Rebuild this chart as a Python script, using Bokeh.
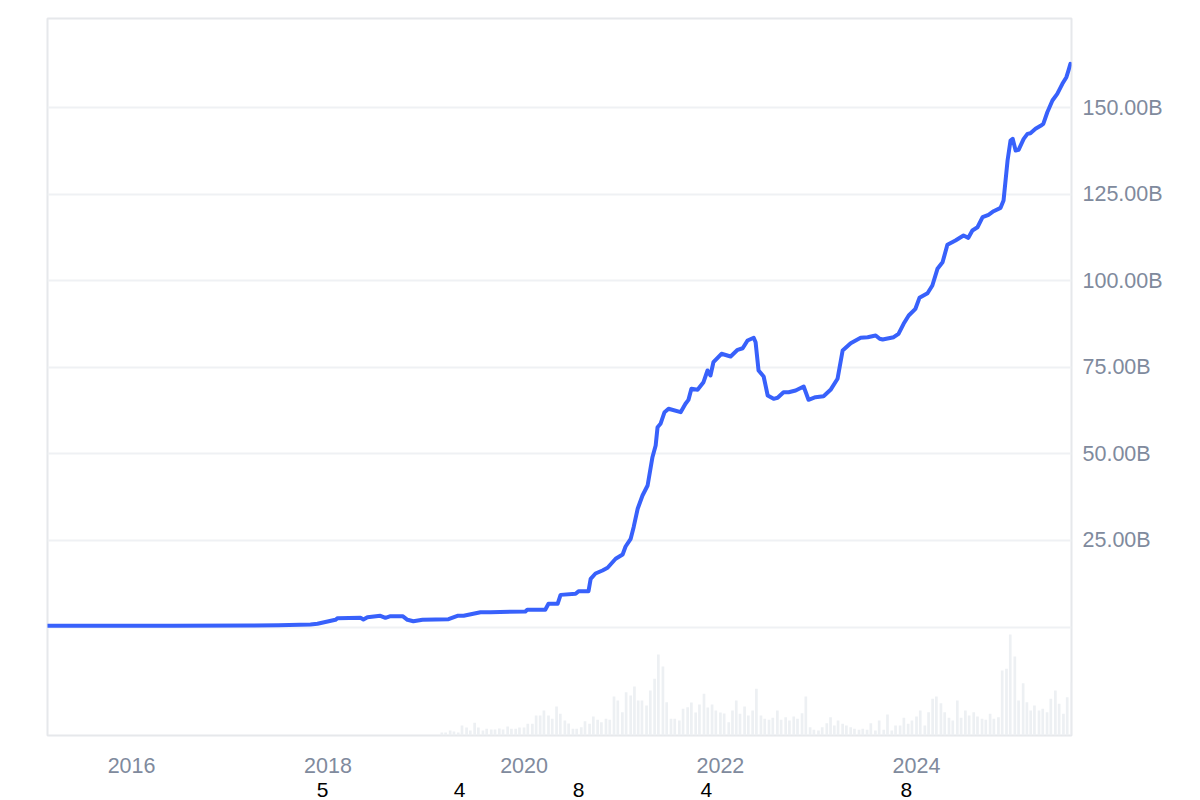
import pandas as pd
from bokeh.plotting import figure
from bokeh.models import Range1d, FixedTicker, DatetimeTickFormatter, DatetimeAxis, ColumnDataSource
from bokeh.embed import file_html
from bokeh.resources import INLINE

# ---------------- data ----------------
line_dates = [
    "2015-02-22", "2016-06-01", "2017-03-18", "2017-07-01", "2017-10-28", "2017-11-23",
    "2018-01-29", "2018-02-06", "2018-05-02", "2018-05-13", "2018-05-28", "2018-07-15",
    "2018-08-03", "2018-08-22", "2018-10-06", "2018-10-24", "2018-11-15", "2018-12-19",
    "2019-03-26", "2019-04-28", "2019-05-21", "2019-07-23", "2019-08-29", "2020-01-06",
    "2020-01-13", "2020-03-20", "2020-04-01", "2020-05-05", "2020-05-16", "2020-07-11",
    "2020-07-22", "2020-08-28", "2020-09-05", "2020-09-23", "2020-10-19", "2020-11-07",
    "2020-12-07", "2021-01-02", "2021-01-13", "2021-02-01", "2021-02-12", "2021-02-27",
    "2021-03-17", "2021-04-05", "2021-04-23", "2021-05-05", "2021-05-12", "2021-05-23",
    "2021-06-07", "2021-06-22", "2021-08-06", "2021-08-24", "2021-09-04", "2021-09-15",
    "2021-10-08", "2021-10-30", "2021-11-14", "2021-11-25", "2021-12-06", "2022-01-05",
    "2022-02-08", "2022-03-06", "2022-03-25", "2022-04-12", "2022-05-05", "2022-05-12",
    "2022-05-23", "2022-06-11", "2022-06-26", "2022-07-18", "2022-08-02", "2022-08-24",
    "2022-09-12", "2022-10-08", "2022-11-07", "2022-11-25", "2022-12-21", "2023-01-20",
    "2023-02-15", "2023-03-13", "2023-04-01", "2023-05-01", "2023-06-07", "2023-07-03",
    "2023-08-02", "2023-08-17", "2023-08-28", "2023-10-08", "2023-10-26", "2023-11-14",
    "2023-12-03", "2023-12-28", "2024-01-12", "2024-02-11", "2024-02-29", "2024-03-19",
    "2024-04-07", "2024-04-25", "2024-05-25", "2024-06-24", "2024-07-12", "2024-07-27",
    "2024-08-15", "2024-09-03", "2024-09-25", "2024-10-14", "2024-11-09", "2024-11-20",
    "2024-12-05", "2024-12-16", "2024-12-24", "2025-01-04", "2025-01-15", "2025-02-03",
    "2025-02-17", "2025-02-28", "2025-03-19", "2025-04-07", "2025-04-17", "2025-05-02",
    "2025-05-21", "2025-06-08", "2025-06-27", "2025-07-12", "2025-07-19", "2025-07-27",
]
line_values_b = [
    0.4, 0.4, 0.45, 0.55, 0.75, 0.95,
    2.1, 2.57, 2.68, 2.19, 2.86, 3.26,
    2.68, 3.15, 3.15, 2.1, 1.7, 2.1,
    2.28, 3.26, 3.26, 4.3, 4.3, 4.5,
    5.0, 5.0, 6.73, 6.73, 9.3, 9.6,
    10.36, 10.36, 13.94, 15.47, 16.34, 17.12,
    19.72, 20.96, 23.27, 25.49, 28.84, 34.15,
    37.99, 40.88, 49.05, 52.43, 57.71, 58.69,
    62.04, 63.02, 62.04, 64.46, 65.6, 68.79,
    68.5, 70.7, 74.08, 72.63, 76.47, 78.9,
    78.12, 80.05, 80.51, 82.74, 83.52, 82.25,
    74.08, 72.35, 66.86, 65.9, 66.2, 67.81,
    67.81, 68.3, 69.46, 65.62, 66.37, 66.66,
    68.5, 71.68, 79.85, 81.96, 83.52, 83.69,
    84.18, 83.23, 83.02, 83.69, 84.67, 87.56,
    89.95, 91.89, 95.06, 96.39, 98.61, 103.43,
    105.34, 110.36, 111.6, 113.05, 112.38, 114.49,
    115.44, 118.33, 119.02, 120.06, 121.04, 123.15,
    134.7, 140.47, 140.96, 137.59, 137.79, 140.96,
    142.4, 142.58, 143.85, 144.72, 145.29, 148.64,
    152.02, 153.96, 156.84, 158.75, 160.48, 162.6,
]

# semi-monthly volume readings (1st and 15th), from March 2019
volume_start = "2019-03-01"
volume_values = [
    3, 3, 5, 4, 3, 10, 8, 5, 12.7, 8, 5, 6.7, 6, 6, 7, 6, 9, 6.7, 6.7, 8,
    8, 11.7, 11.7, 20, 20, 25, 20, 16.7, 29, 21.7, 15, 12, 6.7, 6.7, 8.3, 14.3,
    11.7, 19, 15.7, 13.3, 16.7, 15.7, 39, 35,
    23.3, 43.3, 40, 49, 35, 35, 30, 45, 56.7, 81, 69, 33.3, 16.7, 16.7, 15, 26.7,
    28.3, 33, 23, 31, 41.7, 28, 31, 25,
    23, 22, 13.3, 25, 35, 21.7, 29, 20, 25, 46.7, 20, 16.7, 15.7, 17.7, 25, 15.7,
    18.3, 15, 19, 16.7, 22.3, 39, 8.3, 5.7,
    5, 8.3, 12.3, 18.3, 10, 15, 11.7, 10, 8.3, 6.7, 5.7, 6.7, 5.7, 12.3, 5, 15,
    5.7, 21, 5, 10, 10, 17.7, 11.7, 15,
    19, 25, 10, 23.3, 36.7, 39, 32.3, 23.3, 17.7, 15, 35, 17.7, 25, 20, 23.3, 19,
    16.7, 15.7, 21.7, 16.7, 18.3, 65, 66.7, 101,
    79, 35, 52.3, 33.3, 25, 30, 25, 26.7, 23.3, 36.7, 45, 31.7, 21.7, 38.3, 53.3,
]

y_ticks_b = [0, 25, 50, 75, 100, 125, 150]
x_tick_years = [2016, 2018, 2020, 2022, 2024]

marker_dates = ["2017-12-12", "2019-05-06", "2020-07-22", "2021-11-10", "2023-11-24"]
marker_texts = ["5", "4", "8", "4", "8"]

# ---------------- figure ----------------
X_START, X_END = pd.Timestamp("2015-02-22"), pd.Timestamp("2025-07-31")
Y_START, Y_END = -31.3, 175.7
FRAME_H = 717

p = figure(
    width=1200, height=800,
    x_axis_type="datetime", y_axis_location="right",
    x_range=Range1d(X_START, X_END), y_range=Range1d(Y_START, Y_END),
    output_backend="svg", toolbar_location=None,
    min_border_left=47, min_border_right=129, min_border_top=18, min_border_bottom=65,
    background_fill_color="white", border_fill_color="white",
)
p.extra_y_ranges = {"vol": Range1d(0, FRAME_H)}

vol_src = ColumnDataSource(dict(
    x=pd.date_range(volume_start, periods=len(volume_values), freq="SMS"),
    top=volume_values,
))
p.vbar(x="x", top="top", bottom=0, width=10 * 24 * 3600 * 1000, source=vol_src,
       y_range_name="vol", fill_color="#edf0f3", line_color=None)

line_src = ColumnDataSource(dict(x=pd.to_datetime(line_dates), y=line_values_b))
p.line("x", "y", source=line_src, line_color="#3861fb", line_width=4,
       line_join="round", line_cap="round")

# grid / outline
p.xgrid.visible = False
p.ygrid.grid_line_color = "#eff1f4"
p.ygrid.grid_line_width = 2
p.outline_line_color = "#e6e8eb"
p.outline_line_width = 2

LABEL_COLOR = "#808a9d"
FONT = "Liberation Sans"

yax = p.yaxis[0]
yax.ticker = FixedTicker(ticks=y_ticks_b)
yax.major_label_overrides = {t: ("" if t == 0 else f"{t:.2f}B") for t in y_ticks_b}
yax.axis_line_color = None
yax.major_tick_line_color = None
yax.major_tick_out = 0
yax.major_tick_in = 0
yax.minor_tick_line_color = None
yax.major_label_text_color = LABEL_COLOR
yax.major_label_text_font = FONT
yax.major_label_text_font_size = "21.5px"
yax.major_label_standoff = 11

xax = p.xaxis[0]
xax.ticker = FixedTicker(ticks=[pd.Timestamp(f"{y}-01-01").value / 1e6 for y in x_tick_years])
xax.formatter = DatetimeTickFormatter(years="%Y", months="%Y", days="%Y")
xax.axis_line_color = None
xax.major_tick_line_color = None
xax.major_tick_out = 0
xax.major_tick_in = 0
xax.minor_tick_line_color = None
xax.major_label_text_color = LABEL_COLOR
xax.major_label_text_font = FONT
xax.major_label_text_font_size = "21.5px"
xax.major_label_standoff = 22

# second row of bottom labels (black digits)
marker_ms = [int(pd.Timestamp(d).value // 1_000_000) for d in marker_dates]
mark_axis = DatetimeAxis(
    ticker=FixedTicker(ticks=marker_ms),
    major_label_overrides={m: t for m, t in zip(marker_ms, marker_texts)},
)
mark_axis.axis_line_color = None
mark_axis.major_tick_line_color = None
mark_axis.major_tick_out = 0
mark_axis.major_tick_in = 0
mark_axis.minor_tick_line_color = None
mark_axis.major_label_text_color = "black"
mark_axis.major_label_text_font = FONT
mark_axis.major_label_text_font_size = "21px"
mark_axis.major_label_standoff = 7
p.add_layout(mark_axis, "below")

open("out.html", "w").write(file_html(p, INLINE))
